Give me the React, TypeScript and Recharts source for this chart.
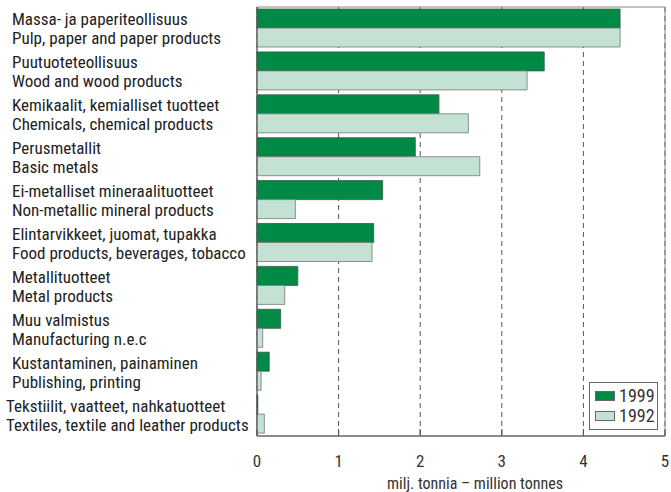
import React from 'react';
import { BarChart, Bar, XAxis, YAxis, CartesianGrid, Legend, ReferenceArea } from 'recharts';

const labelsFi = [
  'Massa- ja paperiteollisuus',
  'Puutuoteteollisuus',
  'Kemikaalit, kemialliset tuotteet',
  'Perusmetallit',
  'Ei-metalliset mineraalituotteet',
  'Elintarvikkeet, juomat, tupakka',
  'Metallituotteet',
  'Muu valmistus',
  'Kustantaminen, painaminen',
  'Tekstiilit, vaatteet, nahkatuotteet',
];
const labelsEn = [
  'Pulp, paper and paper products',
  'Wood and wood products',
  'Chemicals, chemical products',
  'Basic metals',
  'Non-metallic mineral products',
  'Food products, beverages, tobacco',
  'Metal products',
  'Manufacturing n.e.c',
  'Publishing, printing',
  'Textiles, textile and leather products',
];
const values1999 = [4.45, 3.52, 2.23, 1.94, 1.54, 1.43, 0.5, 0.29, 0.15, 0.01];
const values1992 = [4.45, 3.31, 2.59, 2.73, 0.47, 1.41, 0.34, 0.07, 0.05, 0.09];
const xTicks = [0, 1, 2, 3, 4, 5];

const data = labelsFi.map((fi, i) => ({
  name: fi,
  en: labelsEn[i],
  y1999: values1999[i],
  y1992: values1992[i],
}));

const FONT = '"Roboto Condensed", Roboto, sans-serif';
const DARK = '#008a45';
const LIGHT = '#c3e2d3';

function CategoryTick(props: any) {
  const { y, payload, index } = props;
  const row = data[index] || data.find((d) => d.name === payload.value);
  const x0 = index === 9 ? 6 : 12;
  return (
    <g>
      <text x={x0} y={y - 9} dy="0.35em" fontFamily={FONT} fontSize={17} fill="#222">
        {payload.value}
      </text>
      <text x={x0} y={y + 10} dy="0.35em" fontFamily={FONT} fontSize={17} fill="#222">
        {row ? row.en : ''}
      </text>
    </g>
  );
}

function ValueTick(props: any) {
  const { x, y, payload } = props;
  return (
    <g>
      <line x1={x} y1={y} x2={x} y2={y - 7} stroke="#555" strokeWidth={1} />
      <text x={x} y={y + 25} textAnchor="middle" dy="0.35em" fontFamily={FONT} fontSize={17} fill="#333">
        {payload.value}
      </text>
    </g>
  );
}

function LegendBox() {
  const items = [
    { label: '1999', color: DARK },
    { label: '1992', color: LIGHT },
  ];
  return (
    <div
      style={{
        border: '1px solid #666',
        width: 62,
        padding: '3px 0 3px 5px',
        background: '#fff',
        fontFamily: FONT,
        fontSize: 18,
        lineHeight: '20px',
        color: '#333',
        boxSizing: 'content-box',
      }}
    >
      {items.map((it) => (
        <div key={it.label} style={{ display: 'flex', alignItems: 'center', height: 20 }}>
          <span
            style={{
              display: 'inline-block',
              width: 18,
              height: 8,
              background: it.color,
              border: '1px solid #666',
              marginRight: 4,
            }}
          />
          <span>{it.label}</span>
        </div>
      ))}
    </div>
  );
}

export default function App() {
  return (
    <div style={{ width: 671, height: 492, background: '#fff' }}>
      <style>{'body{margin:0}'}</style>
      <BarChart
        width={671}
        height={492}
        data={data}
        layout="vertical"
        margin={{ top: 7, right: 6, bottom: 6, left: 0 }}
        barSize={19}
        barGap={0}
      >
        <CartesianGrid
          horizontal={false}
          vertical={true}
          stroke="#555"
          strokeDasharray="5 4"
        />
        <ReferenceArea x1={0} x2={5} fill="none" stroke="#888" strokeWidth={1} ifOverflow="visible" />
        <XAxis
          type="number"
          domain={[0, 5]}
          ticks={xTicks}
          height={50}
          axisLine={{ stroke: '#555' }}
          tickLine={false}
          tickSize={0}
          tickMargin={0}
          tick={<ValueTick />}
          interval={0}
          label={{
            value: 'milj. tonnia – million tonnes',
            position: 'insideBottom',
            offset: -3,
            dx: 14,
            fontFamily: FONT,
            fontSize: 16,
            fill: '#333',
          }}
        />
        <YAxis
          type="category"
          dataKey="name"
          width={257}
          axisLine={{ stroke: '#555' }}
          tickLine={false}
          tick={<CategoryTick />}
          interval={0}
        />
        <Legend
          layout="horizontal"
          verticalAlign="middle"
          align="center"
          content={<LegendBox />}
          wrapperStyle={{ position: 'absolute', left: 589, top: 382, width: 68, height: 46 }}
        />
        <Bar dataKey="y1999" name="1999" fill={DARK} stroke="#3a5a48" strokeWidth={0.8} isAnimationActive={false} />
        <Bar dataKey="y1992" name="1992" fill={LIGHT} stroke="#777" strokeWidth={0.8} isAnimationActive={false} />
      </BarChart>
    </div>
  );
}
